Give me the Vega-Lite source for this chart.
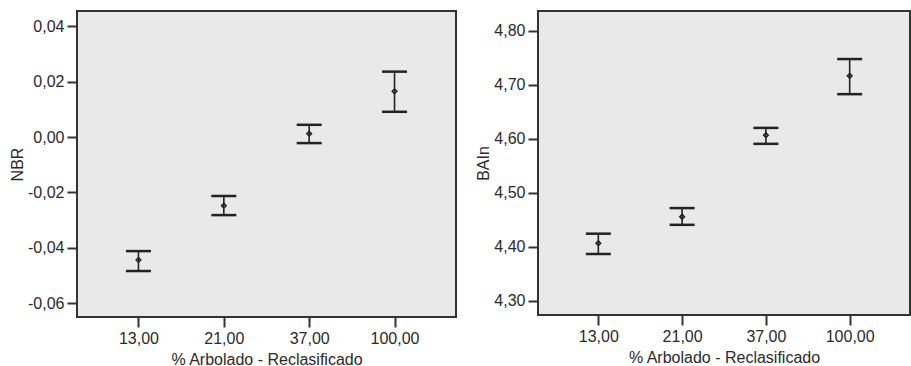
{
  "$schema": "https://vega.github.io/schema/vega-lite/v6.json",
  "background": "white",
  "padding": {"left": 8, "top": 10, "right": 0, "bottom": 0},
  "spacing": 17,
  "datasets": {
    "nbr": [
      {"pct": 13, "mean": -0.0444, "lo": -0.0484, "hi": -0.0412},
      {"pct": 21, "mean": -0.0248, "lo": -0.0282, "hi": -0.0213},
      {"pct": 37, "mean": 0.0012, "lo": -0.0022, "hi": 0.0044},
      {"pct": 100, "mean": 0.0165, "lo": 0.0091, "hi": 0.0236}
    ],
    "bain": [
      {"pct": 13, "mean": 4.407, "lo": 4.387, "hi": 4.4246},
      {"pct": 21, "mean": 4.456, "lo": 4.441, "hi": 4.472},
      {"pct": 37, "mean": 4.607, "lo": 4.591, "hi": 4.6205},
      {"pct": 100, "mean": 4.717, "lo": 4.683, "hi": 4.748}
    ]
  },
  "config": {
    "font": "Liberation Sans",
    "view": {"fill": "#e9e9e9", "stroke": "#333333", "strokeWidth": 2},
    "axis": {
      "labelFont": "Liberation Sans",
      "titleFont": "Liberation Sans",
      "labelFontSize": 16,
      "titleFontSize": 16,
      "titleFontWeight": "normal",
      "labelColor": "#2a2a2a",
      "titleColor": "#2a2a2a",
      "domain": false,
      "grid": false,
      "ticks": true,
      "tickColor": "#333333",
      "tickWidth": 2,
      "tickSize": 10,
      "labelPadding": 3
    }
  },
  "hconcat": [
    {
      "width": 379,
      "height": 306,
      "data": {"name": "nbr"},
      "encoding": {
        "x": {
          "field": "pct",
          "type": "ordinal",
          "sort": null,
          "scale": {"type": "point", "padding": 0.72},
          "axis": {
            "title": "% Arbolado - Reclasificado",
            "labelAngle": 0,
            "titlePadding": 5,
            "labelExpr": "replace(format(datum.value, '.2f'), '.', ',')"
          }
        }
      },
      "layer": [
        {
          "mark": {"type": "rule", "color": "#222222", "strokeWidth": 1.6},
          "encoding": {
            "y": {
              "field": "lo",
              "type": "quantitative",
              "scale": {"domain": [-0.065, 0.0455], "nice": false, "zero": false},
              "axis": {
                "title": "NBR",
                "titlePadding": 2,
                "values": [-0.06, -0.04, -0.02, 0, 0.02, 0.04],
                "labelExpr": "replace(replace(format(datum.value, '.2f'), '.', ','), '\u2212', '-')"
              }
            },
            "y2": {"field": "hi"}
          }
        },
        {
          "mark": {"type": "tick", "orient": "horizontal", "size": 25, "thickness": 2.5, "color": "#222222", "opacity": 1},
          "encoding": {"y": {"field": "lo", "type": "quantitative", "title": "NBR"}}
        },
        {
          "mark": {"type": "tick", "orient": "horizontal", "size": 25, "thickness": 2.5, "color": "#222222", "opacity": 1},
          "encoding": {"y": {"field": "hi", "type": "quantitative", "title": "NBR"}}
        },
        {
          "mark": {"type": "point", "shape": "diamond", "size": 22, "filled": false, "color": "#222222", "strokeWidth": 1.5, "opacity": 1},
          "encoding": {"y": {"field": "mean", "type": "quantitative", "title": "NBR"}}
        }
      ]
    },
    {
      "width": 372,
      "height": 304,
      "data": {"name": "bain"},
      "encoding": {
        "x": {
          "field": "pct",
          "type": "ordinal",
          "sort": null,
          "scale": {"type": "point", "padding": 0.72},
          "axis": {
            "title": "% Arbolado - Reclasificado",
            "labelAngle": 0,
            "titlePadding": 5,
            "labelExpr": "replace(format(datum.value, '.2f'), '.', ',')"
          }
        }
      },
      "layer": [
        {
          "mark": {"type": "rule", "color": "#222222", "strokeWidth": 1.6},
          "encoding": {
            "y": {
              "field": "lo",
              "type": "quantitative",
              "scale": {"domain": [4.274, 4.837], "nice": false, "zero": false},
              "axis": {
                "title": "BAIn",
                "titlePadding": 2,
                "values": [4.3, 4.4, 4.5, 4.6, 4.7, 4.8],
                "labelExpr": "replace(format(datum.value, '.2f'), '.', ',')"
              }
            },
            "y2": {"field": "hi"}
          }
        },
        {
          "mark": {"type": "tick", "orient": "horizontal", "size": 25, "thickness": 2.5, "color": "#222222", "opacity": 1},
          "encoding": {"y": {"field": "lo", "type": "quantitative", "title": "BAIn"}}
        },
        {
          "mark": {"type": "tick", "orient": "horizontal", "size": 25, "thickness": 2.5, "color": "#222222", "opacity": 1},
          "encoding": {"y": {"field": "hi", "type": "quantitative", "title": "BAIn"}}
        },
        {
          "mark": {"type": "point", "shape": "diamond", "size": 22, "filled": false, "color": "#222222", "strokeWidth": 1.5, "opacity": 1},
          "encoding": {"y": {"field": "mean", "type": "quantitative", "title": "BAIn"}}
        }
      ]
    }
  ]
}
